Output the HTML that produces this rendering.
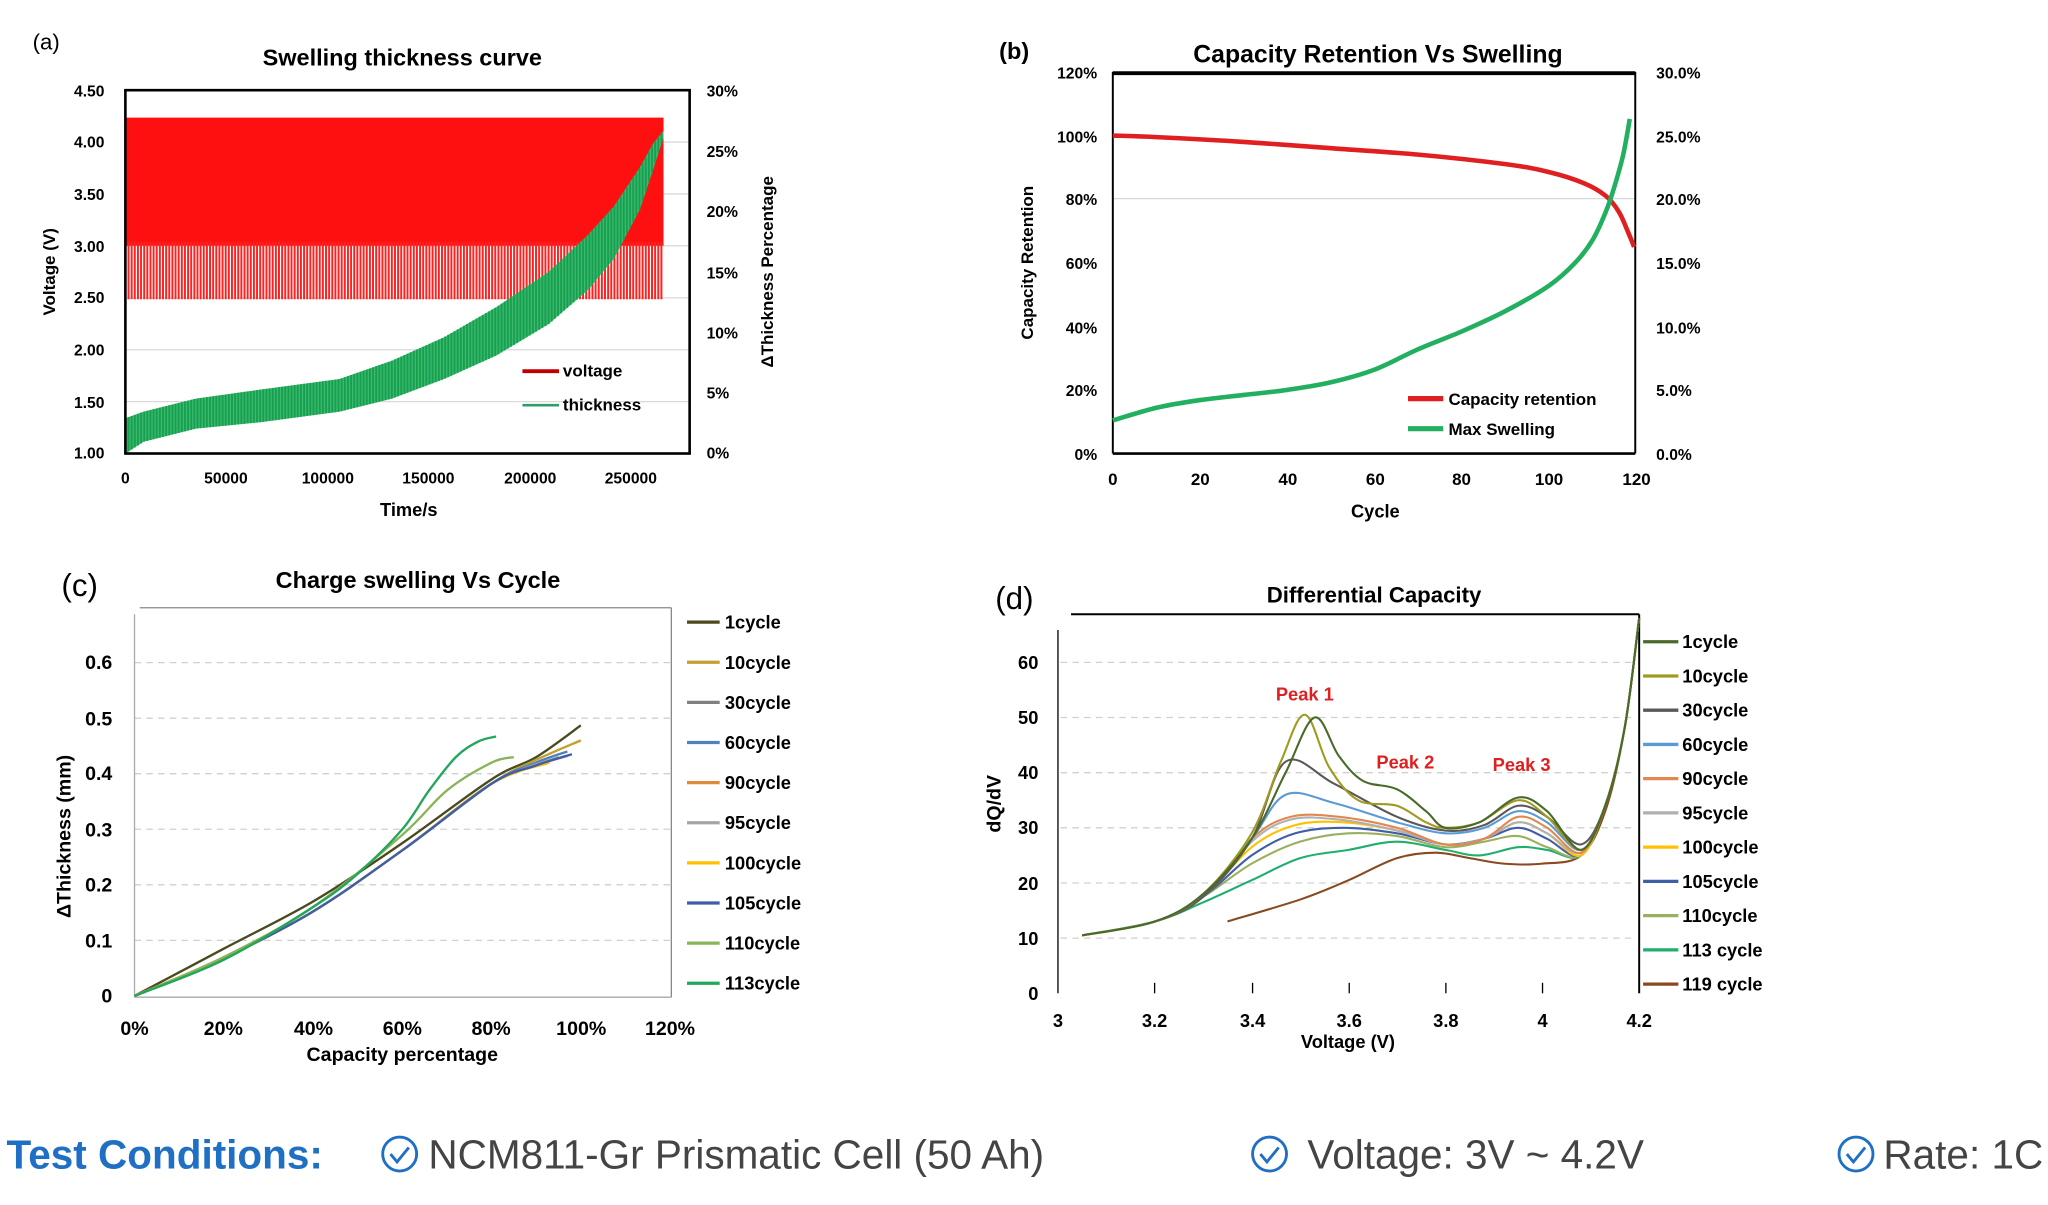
<!DOCTYPE html>
<html><head><meta charset="utf-8"><style>
html,body{margin:0;padding:0;background:#fff;}
svg{display:block;}
text{font-family:"Liberation Sans",sans-serif;}
</style></head><body>
<svg id="s" width="2048" height="1205" viewBox="0 0 1568 922" preserveAspectRatio="none" xmlns="http://www.w3.org/2000/svg">
<rect width="1568" height="922" fill="#fff"/>
<!-- (a) -->
<text x="25" y="38" font-size="17">(a)</text>
<text x="308" y="50" font-size="18" font-weight="bold" text-anchor="middle">Swelling thickness curve</text>
<g stroke="#d9d9d9" stroke-width="1">
<line x1="96" x2="528" y1="108.7" y2="108.7"/><line x1="96" x2="528" y1="148.4" y2="148.4"/><line x1="96" x2="528" y1="188.1" y2="188.1"/><line x1="96" x2="528" y1="227.9" y2="227.9"/><line x1="96" x2="528" y1="267.6" y2="267.6"/><line x1="96" x2="528" y1="307.3" y2="307.3"/>
</g>
<g id="ared"></g>
<g id="agreen"></g>
<rect x="96" y="69" width="432" height="278" fill="none" stroke="#000" stroke-width="2"/>
<g font-size="12" text-anchor="end" font-weight="bold">
<text x="80" y="74">4.50</text><text x="80" y="113">4.00</text><text x="80" y="153">3.50</text><text x="80" y="193">3.00</text><text x="80" y="232">2.50</text><text x="80" y="272">2.00</text><text x="80" y="312">1.50</text><text x="80" y="351">1.00</text>
</g>
<g font-size="12" font-weight="bold">
<text x="541" y="74">30%</text><text x="541" y="120">25%</text><text x="541" y="166">20%</text><text x="541" y="213">15%</text><text x="541" y="259">10%</text><text x="541" y="305">5%</text><text x="541" y="351">0%</text>
</g>
<g font-size="12" font-weight="bold" text-anchor="middle">
<text x="96" y="370">0</text><text x="173" y="370">50000</text><text x="251" y="370">100000</text><text x="328" y="370">150000</text><text x="406" y="370">200000</text><text x="483" y="370">250000</text>
</g>
<text x="313" y="395" font-size="14" font-weight="bold" text-anchor="middle">Time/s</text>
<text transform="translate(42,208) rotate(-90)" font-size="13" font-weight="bold" text-anchor="middle">Voltage (V)</text>
<text transform="translate(592,208) rotate(-90)" font-size="13" font-weight="bold" text-anchor="middle">ΔThickness  Percentage</text>
<line x1="400" x2="428" y1="284" y2="284" stroke="#c00000" stroke-width="3"/>
<text x="431" y="288" font-size="13" font-weight="bold">voltage</text>
<line x1="400" x2="428" y1="310" y2="310" stroke="#2e9e6a" stroke-width="2"/>
<text x="431" y="314" font-size="13" font-weight="bold">thickness</text>

<!-- (b) -->
<text x="765" y="45" font-size="18" font-weight="bold">(b)</text>
<text x="1055" y="48" font-size="19" font-weight="bold" text-anchor="middle">Capacity Retention Vs Swelling</text>
<line x1="852" x2="1252" y1="152" y2="152" stroke="#d9d9d9"/>
<line x1="852" x2="1252" y1="56" y2="56" stroke="#000" stroke-width="3"/>
<line x1="852" x2="852" y1="55" y2="347" stroke="#000" stroke-width="1.5"/>
<line x1="1252" x2="1252" y1="55" y2="347" stroke="#000" stroke-width="1.5"/>
<line x1="852" x2="1252" y1="347" y2="347" stroke="#000" stroke-width="2"/>
<path id="bred" fill="none" stroke="#e02020" stroke-width="3.5"/>
<path id="bgreen" fill="none" stroke="#22b060" stroke-width="3.5"/>
<g font-size="12" font-weight="bold" text-anchor="end">
<text x="840" y="60">120%</text><text x="840" y="109">100%</text><text x="840" y="157">80%</text><text x="840" y="206">60%</text><text x="840" y="255">40%</text><text x="840" y="303">20%</text><text x="840" y="352">0%</text>
</g>
<g font-size="12" font-weight="bold">
<text x="1268" y="60">30.0%</text><text x="1268" y="109">25.0%</text><text x="1268" y="157">20.0%</text><text x="1268" y="206">15.0%</text><text x="1268" y="255">10.0%</text><text x="1268" y="303">5.0%</text><text x="1268" y="352">0.0%</text>
</g>
<g font-size="13" font-weight="bold" text-anchor="middle">
<text x="852" y="371">0</text><text x="919" y="371">20</text><text x="986" y="371">40</text><text x="1053" y="371">60</text><text x="1119" y="371">80</text><text x="1186" y="371">100</text><text x="1253" y="371">120</text>
</g>
<text x="1053" y="396" font-size="14" font-weight="bold" text-anchor="middle">Cycle</text>
<text transform="translate(791,201) rotate(-90)" font-size="13" font-weight="bold" text-anchor="middle">Capacity Retention</text>
<line x1="1078" x2="1105" y1="305" y2="305" stroke="#e02020" stroke-width="4"/>
<text x="1109" y="310" font-size="13" font-weight="bold">Capacity retention</text>
<line x1="1078" x2="1105" y1="328" y2="328" stroke="#22b060" stroke-width="4"/>
<text x="1109" y="333" font-size="13" font-weight="bold">Max Swelling</text>

<!-- (c) -->
<text x="47" y="456" font-size="24">(c)</text>
<text x="320" y="450" font-size="18" font-weight="bold" text-anchor="middle">Charge swelling Vs Cycle</text>
<g stroke="#d0d0d0" stroke-dasharray="5,4">
<line x1="103" x2="513" y1="719.5" y2="719.5"/><line x1="103" x2="513" y1="677" y2="677"/><line x1="103" x2="513" y1="634.5" y2="634.5"/><line x1="103" x2="513" y1="592" y2="592"/><line x1="103" x2="513" y1="549.5" y2="549.5"/><line x1="103" x2="513" y1="507" y2="507"/>
</g>
<line x1="107" x2="514" y1="465" y2="465" stroke="#888"/>
<line x1="514" x2="514" y1="465" y2="763" stroke="#888"/>
<line x1="103" x2="103" y1="470" y2="763" stroke="#aaa"/>
<line x1="103" x2="514" y1="763" y2="763" stroke="#aaa"/>
<g id="ccurves" fill="none" stroke-width="1.8"></g>
<g font-size="15" font-weight="bold" text-anchor="end">
<text x="86" y="767">0</text><text x="86" y="725">0.1</text><text x="86" y="682">0.2</text><text x="86" y="640">0.3</text><text x="86" y="597">0.4</text><text x="86" y="555">0.5</text><text x="86" y="512">0.6</text>
</g>
<g font-size="15" font-weight="bold" text-anchor="middle">
<text x="103" y="792">0%</text><text x="171" y="792">20%</text><text x="240" y="792">40%</text><text x="308" y="792">60%</text><text x="376" y="792">80%</text><text x="445" y="792">100%</text><text x="513" y="792">120%</text>
</g>
<text x="308" y="812" font-size="15" font-weight="bold" text-anchor="middle">Capacity percentage</text>
<text transform="translate(54,640) rotate(-90)" font-size="15" font-weight="bold" text-anchor="middle">ΔThickness (mm)</text>
<g id="cleg" font-size="14" font-weight="bold"></g>

<!-- (d) -->
<text x="762" y="466" font-size="24">(d)</text>
<text x="1052" y="461" font-size="17" font-weight="bold" text-anchor="middle">Differential Capacity</text>
<g stroke="#d0d0d0" stroke-dasharray="5,4">
<line x1="812" x2="1253" y1="717.8" y2="717.8"/><line x1="812" x2="1253" y1="675.6" y2="675.6"/><line x1="812" x2="1253" y1="633.4" y2="633.4"/><line x1="812" x2="1253" y1="591.2" y2="591.2"/><line x1="812" x2="1253" y1="549" y2="549"/><line x1="812" x2="1253" y1="506.8" y2="506.8"/>
</g>
<line x1="820" x2="1255" y1="470" y2="470" stroke="#000" stroke-width="1.5"/>
<line x1="1255" x2="1255" y1="470" y2="760" stroke="#000" stroke-width="1.5"/>
<line x1="810" x2="810" y1="482" y2="760" stroke="#000" stroke-width="1"/>
<g stroke="#000"><line x1="884" x2="884" y1="752" y2="760"/><line x1="959" x2="959" y1="752" y2="760"/><line x1="1033" x2="1033" y1="752" y2="760"/><line x1="1107" x2="1107" y1="752" y2="760"/><line x1="1181" x2="1181" y1="752" y2="760"/></g>
<g id="dcurves" fill="none" stroke-width="1.6"></g>
<g font-size="14" font-weight="bold" text-anchor="end">
<text x="795" y="765">0</text><text x="795" y="723">10</text><text x="795" y="681">20</text><text x="795" y="638">30</text><text x="795" y="596">40</text><text x="795" y="554">50</text><text x="795" y="512">60</text>
</g>
<g font-size="14" font-weight="bold" text-anchor="middle">
<text x="810" y="786">3</text><text x="884" y="786">3.2</text><text x="959" y="786">3.4</text><text x="1033" y="786">3.6</text><text x="1107" y="786">3.8</text><text x="1181" y="786">4</text><text x="1255" y="786">4.2</text>
</g>
<text x="1032" y="802" font-size="14" font-weight="bold" text-anchor="middle">Voltage (V)</text>
<text transform="translate(766,615) rotate(-90)" font-size="15" font-weight="bold" text-anchor="middle">dQ/dV</text>
<g font-size="14" font-weight="bold" fill="#e02020" text-anchor="middle">
<text x="999" y="536">Peak 1</text><text x="1076" y="588">Peak 2</text><text x="1165" y="590">Peak 3</text>
</g>
<g id="dleg" font-size="14" font-weight="bold"></g>

<!-- bottom -->
<text x="5" y="894" font-size="31" font-weight="bold" fill="#1f6fc4">Test Conditions:</text>
<g fill="none" stroke="#1f6fc4" stroke-width="2.2">
<circle cx="306" cy="883" r="13"/><path d="M299 883 l5 6 l9 -11"/>
<circle cx="972" cy="883" r="13"/><path d="M965 883 l5 6 l9 -11"/>
<circle cx="1421" cy="883" r="13"/><path d="M1414 883 l5 6 l9 -11"/>
</g>
<g font-size="31" fill="#444">
<text x="328" y="894">NCM811-Gr Prismatic Cell (50 Ah)</text>
<text x="1001" y="894">Voltage: 3V ~ 4.2V</text>
<text x="1442" y="894">Rate: 1C</text>
</g>
</svg>
<script>
var NS="http://www.w3.org/2000/svg";
function el(t,a,p){var e=document.createElementNS(NS,t);for(var k in a)e.setAttribute(k,a[k]);p.appendChild(e);return e;}
function smooth(pts){var d="M"+pts[0][0].toFixed(1)+" "+pts[0][1].toFixed(1);
for(var i=0;i<pts.length-1;i++){var p0=pts[Math.max(0,i-1)],p1=pts[i],p2=pts[i+1],p3=pts[Math.min(pts.length-1,i+2)];
var c1=[p1[0]+(p2[0]-p0[0])/6,p1[1]+(p2[1]-p0[1])/6],c2=[p2[0]-(p3[0]-p1[0])/6,p2[1]-(p3[1]-p1[1])/6];
d+=" C"+c1[0].toFixed(1)+" "+c1[1].toFixed(1)+" "+c2[0].toFixed(1)+" "+c2[1].toFixed(1)+" "+p2[0].toFixed(1)+" "+p2[1].toFixed(1);}return d;}
function interp(arr,x){for(var i=0;i<arr.length-1;i++){if(x<=arr[i+1][0]){var t=(x-arr[i][0])/(arr[i+1][0]-arr[i][0]);return arr[i][1]+t*(arr[i+1][1]-arr[i][1]);}}return arr[arr.length-1][1];}
// (a)
var ar=document.getElementById("ared");
el("rect",{x:96,y:90,width:412,height:98,fill:"#ff1010"},ar);
for(var x=96;x<508;x+=2.4){el("line",{x1:x,x2:x,y1:185,y2:229,stroke:"#ff2020","stroke-width":1.5},ar);}
var ag=document.getElementById("agreen");
var lo=[[96,347],[110,338],[150,328],[200,323],[260,315],[300,305],[340,290],[380,272],[420,248],[450,222],[470,198],[490,160],[500,130],[508,105]];
var hi=[[96,320],[110,315],[150,305],[200,298],[260,290],[300,276],[340,258],[380,235],[420,208],[450,180],[470,158],[490,128],[500,110],[508,100]];
var poly=[];lo.forEach(function(p){poly.push(p.join(","));});hi.slice().reverse().forEach(function(p){poly.push(p.join(","));});
el("polygon",{points:poly.join(" "),fill:"#3cb870"},ag);
for(var x=96;x<508;x+=2.4){el("line",{x1:x,x2:x,y1:interp(hi,x),y2:interp(lo,x),stroke:"#16a04e","stroke-width":1.4},ag);}
// (b)
function bx(c){return 852+c*3.34;}
var red=[[0,100],[10,99.5],[30,98],[50,96],[70,94],[90,91],[100,88.5],[108,85],[113,81],[116,76],[118,70],[119.5,65]];
document.getElementById("bred").setAttribute("d",smooth(red.map(function(p){return[bx(p[0]),347-p[1]*2.433];})));
var gr=[[0,2.6],[10,3.6],[20,4.2],[30,4.6],[40,5],[50,5.6],[60,6.6],[70,8.2],[80,9.6],[90,11.2],[100,13.2],[106,15],[110,16.8],[113,19],[115,21],[117,23.5],[118.5,26.3]];
document.getElementById("bgreen").setAttribute("d",smooth(gr.map(function(p){return[bx(p[0]),347-p[1]*9.733];})));
// (c)
var cc=document.getElementById("ccurves");
function cp(p,t){return[103+p*341.7,762-t*425];}
var base=[[0,0],[0.2,0.068],[0.4,0.152],[0.6,0.262],[0.8,0.382]];
var cdefs=[
["1cycle","#4a4a1e",[[0,0],[0.2,0.085],[0.4,0.17],[0.6,0.275],[0.8,0.39],[0.9,0.43],[1.0,0.487]]],
["10cycle","#c4a030",base.concat([[0.9,0.425],[1.0,0.46]])],
["30cycle","#808080",base.concat([[0.9,0.415],[0.97,0.432]])],
["60cycle","#4f81bd",base.concat([[0.9,0.42],[0.97,0.44]])],
["90cycle","#e0893a",base.concat([[0.92,0.42]])],
["95cycle","#a5a5a5",base.concat([[0.95,0.43]])],
["100cycle","#ffc000",base.concat([[0.93,0.42]])],
["105cycle","#3f5ea8",base.concat([[0.9,0.415],[0.98,0.435]])],
["110cycle","#8ab35a",[[0,0],[0.2,0.07],[0.4,0.16],[0.6,0.29],[0.7,0.37],[0.8,0.42],[0.85,0.43]]],
["113cycle","#22a65a",[[0,0],[0.2,0.065],[0.4,0.16],[0.5,0.22],[0.6,0.3],[0.66,0.37],[0.72,0.43],[0.77,0.458],[0.81,0.467]]]];
var cl=document.getElementById("cleg");
cdefs.forEach(function(d,i){el("path",{d:smooth(d[2].map(function(p){return cp(p[0],p[1]);})),stroke:d[1]},cc);
var y=476+i*30.7;el("line",{x1:526,x2:551,y1:y,y2:y,stroke:d[1],"stroke-width":2.5},cl);var t=el("text",{x:555,y:y+5},cl);t.textContent=d[0];});
// (d)
var dc=document.getElementById("dcurves");
function dp(v,q){return[810+(v-3)*370.8,760-q*4.22];}
function mk(p1v,p1,p2,tr,p3,dip){return[[3.05,10.5],[3.2,13],[3.3,17.5],[3.4,Math.min(28,p1-4)],[p1v,p1],[p1v+0.1,(p1+p2)/2+1],[3.7,p2],[3.8,tr],[3.88,tr+1],[3.95,p3],[4.01,p3-2],[4.08,dip],[4.13,34],[4.17,48],[4.2,68]];}
var ddefs=[
["1cycle","#4a6a2a",[[3.05,10.5],[3.2,13],[3.3,18],[3.4,28],[3.47,40],[3.53,50],[3.58,43],[3.63,38.5],[3.7,37],[3.76,33],[3.8,30],[3.87,31],[3.95,35.5],[4.01,33],[4.08,26],[4.13,34],[4.17,48],[4.2,68]]],
["10cycle","#a09a20",[[3.05,10.5],[3.2,13],[3.3,18],[3.4,29],[3.46,42],[3.51,50.5],[3.56,41],[3.62,35],[3.7,34],[3.76,31],[3.8,30],[3.87,31],[3.95,35],[4.01,32],[4.08,26],[4.13,34],[4.17,48],[4.2,68]]],
["30cycle","#595959",mk(3.47,42,32,29.5,34,27)],
["60cycle","#5b9bd5",mk(3.47,36,31,29,33,26)],
["90cycle","#e08850",mk(3.48,32,30,27,32,25.5)],
["95cycle","#b0b0b0",mk(3.48,31.5,29.5,27,31,25.5)],
["100cycle","#ffc000",mk(3.49,30.5,29.5,27,31,25)],
["105cycle","#3f5ea8",mk(3.49,29,29,27,30,25)],
["110cycle","#9ab060",mk(3.5,27.5,28.5,26.5,28.5,25)],
["113 cycle","#1fae6e",[[3.05,10.5],[3.2,13],[3.3,16.5],[3.4,20.5],[3.5,24.5],[3.6,26],[3.7,27.5],[3.8,26],[3.87,25],[3.95,26.5],[4.01,26],[4.08,25],[4.13,34],[4.17,48],[4.2,68]]],
["119 cycle","#8a4a20",[[3.35,13],[3.5,17],[3.6,20.5],[3.7,24.5],[3.78,25.5],[3.85,24.5],[3.92,23.5],[4.0,23.5],[4.08,25],[4.13,33],[4.17,48],[4.2,68]]]];
var dl=document.getElementById("dleg");
ddefs.slice().reverse().forEach(function(d){el("path",{d:smooth(d[2].map(function(p){return dp(p[0],p[1]);})),stroke:d[1]},dc);});
ddefs.forEach(function(d,i){var y=491+i*26.2;el("line",{x1:1258,x2:1285,y1:y,y2:y,stroke:d[1],"stroke-width":2.5},dl);var t=el("text",{x:1288,y:y+5},dl);t.textContent=d[0];});
</script>
</body></html>
